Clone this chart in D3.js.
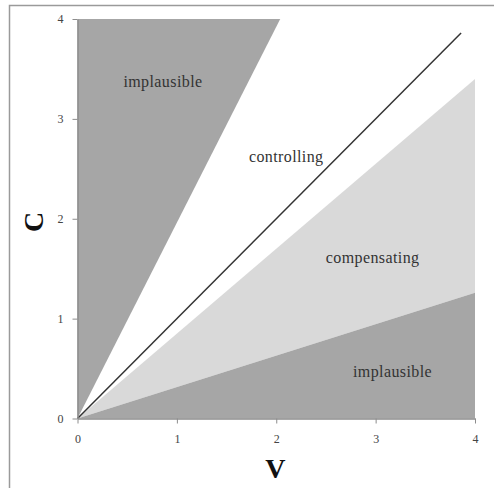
<!DOCTYPE html>
<html>
<head>
<meta charset="utf-8">
<script src="https://cdn.jsdelivr.net/npm/d3@7"></script>
<style>
  html, body { margin: 0; padding: 0; background: #fff; }
  svg { display: block; }
</style>
</head>
<body>
<svg id="chart" width="494" height="488"></svg>
<script>
// ---- data (V, C coordinates) ----
const xTicks = [0, 1, 2, 3, 4];
const yTicks = [0, 1, 2, 3, 4];
const upperImplausible = [[0, 0], [0, 4], [2.04, 4]];
const compensating = [[0, 0], [4, 3.4], [4, 1.26]];
const lowerImplausible = [[0, 0], [4, 1.26], [4, 0]];
const diagonal = [[0, 0], [3.86, 3.86]];
const labelTexts = ["implausible", "controlling", "compensating", "implausible"];
const labelV = [0.86, 2.10, 2.97, 3.17];
const labelC = [3.37, 2.62, 1.61, 0.47];

// ---- drawing ----
const svg = d3.select("#chart");
const x = d3.scaleLinear().domain([0, 4]).range([77.5, 475]);
const y = d3.scaleLinear().domain([0, 4]).range([418.5, 19]);

// outer frame
svg.append("rect")
  .attr("x", 9.5).attr("y", 5.5).attr("width", 500).attr("height", 500)
  .attr("fill", "none").attr("stroke", "#9a9a9a").attr("stroke-width", 1.5);

const line = d3.line().x(d => x(d[0])).y(d => y(d[1]));

svg.append("path").attr("d", line(upperImplausible) + "Z").attr("fill", "#a6a6a6");
svg.append("path").attr("d", line(compensating) + "Z").attr("fill", "#d9d9d9");
svg.append("path").attr("d", line(lowerImplausible) + "Z").attr("fill", "#a6a6a6");

svg.append("path").attr("d", line(diagonal))
  .attr("fill", "none").attr("stroke", "#333").attr("stroke-width", 1.5);

// axes
const fmt = d3.format("d");
const xAxis = d3.axisBottom(x).tickValues(xTicks).tickFormat(fmt).tickSize(5).tickPadding(11).tickSizeOuter(0);
const yAxis = d3.axisLeft(y).tickValues(yTicks).tickFormat(fmt).tickSize(5).tickPadding(9).tickSizeOuter(0);

const gx = svg.append("g").attr("transform", `translate(0,${y(0)})`).call(xAxis);
const gy = svg.append("g").attr("transform", `translate(${x(0)},0)`).call(yAxis);
[gx, gy].forEach(g => {
  g.select(".domain").attr("stroke", "#8c8c8c").attr("stroke-width", 1.5);
  g.selectAll(".tick line").attr("stroke", "#8c8c8c").attr("stroke-width", 1);
  g.selectAll(".tick text")
    .attr("font-family", "'Liberation Serif', 'Times New Roman', serif")
    .attr("font-size", 12).attr("fill", "#444");
});

// region labels
svg.append("g").selectAll("text")
  .data(labelTexts)
  .join("text")
  .attr("x", (d, i) => x(labelV[i]))
  .attr("y", (d, i) => y(labelC[i]))
  .attr("text-anchor", "middle")
  .attr("dominant-baseline", "central")
  .attr("font-family", "'Liberation Serif', 'Times New Roman', serif")
  .attr("font-size", 16)
  .attr("letter-spacing", 0.4)
  .attr("fill", "#333")
  .text(d => d);

// axis titles
svg.append("text")
  .attr("x", x(2) - 1).attr("y", 468)
  .attr("text-anchor", "middle").attr("dominant-baseline", "central")
  .attr("font-family", "'Liberation Serif', 'Times New Roman', serif")
  .attr("font-weight", "bold").attr("font-size", 28).attr("fill", "#111")
  .text("V");

svg.append("text")
  .attr("transform", "translate(33,222) rotate(-90)")
  .attr("text-anchor", "middle").attr("dominant-baseline", "central")
  .attr("font-family", "'Liberation Serif', 'Times New Roman', serif")
  .attr("font-weight", "bold").attr("font-size", 28).attr("fill", "#111")
  .text("C");
</script>
</body>
</html>
